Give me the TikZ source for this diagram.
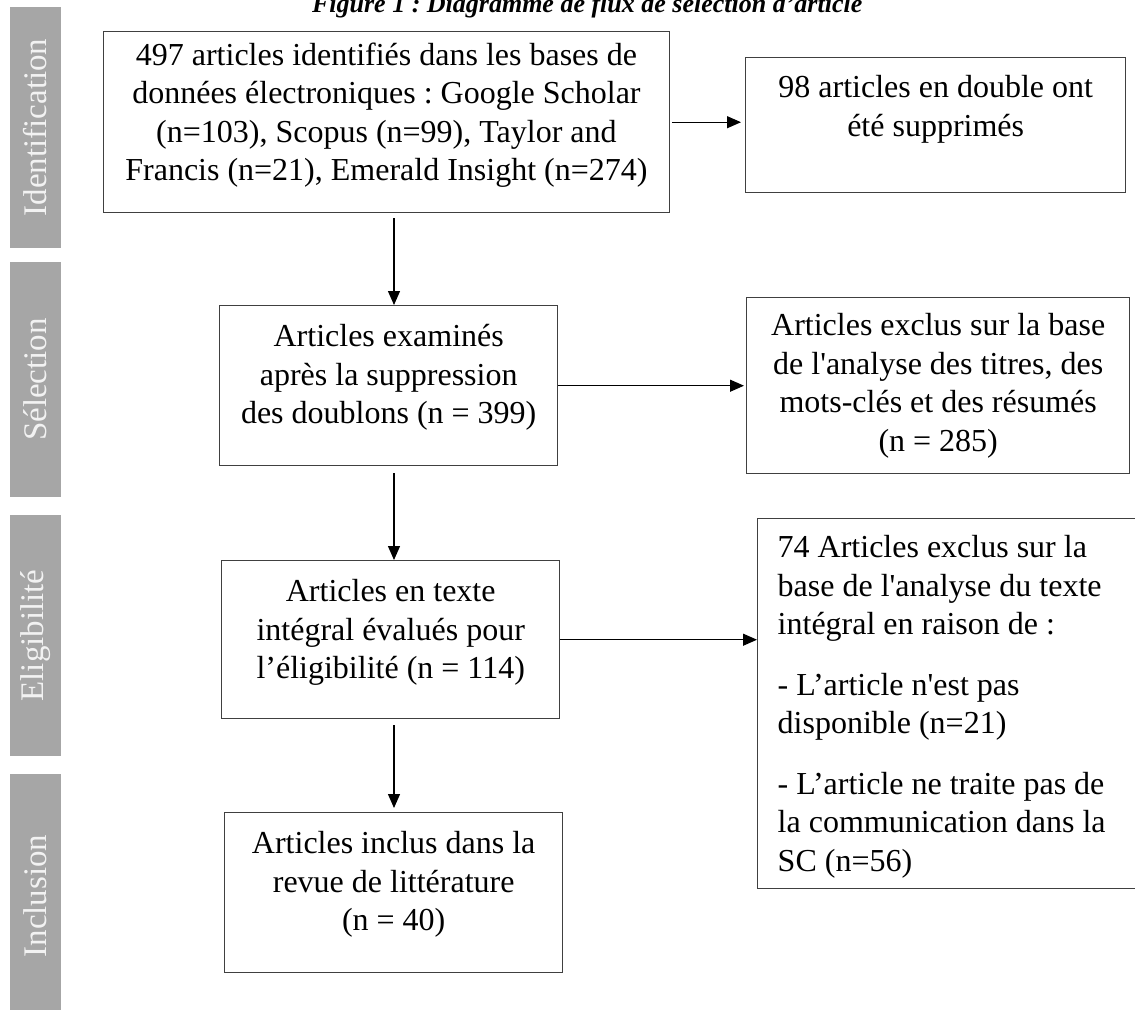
\documentclass[tikz,border=0pt]{standalone}
\usepackage{fontspec}
\setmainfont{Liberation Serif}
\usetikzlibrary{arrows.meta}
\definecolor{phasebg}{HTML}{A6A6A6}
\definecolor{phasetxt}{HTML}{F2F2F2}
\definecolor{boxline}{HTML}{404040}
\newcommand{\boxtext}[4]{\parbox[c][#2][t]{#1}{\centering\vspace*{#3}#4\par}}
\frenchspacing

\begin{document}
\begin{tikzpicture}[
    x=0.5pt, y=-0.5pt,
    box/.style={draw=boxline, line width=0.7pt, inner sep=0pt, anchor=north west, font=\fontsize{16pt}{19.25pt}\selectfont},
    phase/.style={fill=phasebg, text=phasetxt, rotate=90, minimum height=25.5pt, inner sep=0pt, font=\fontsize{16.5pt}{18pt}\selectfont},
    arr/.style={-{Triangle[length=7pt,width=6pt]}, line width=0.6pt}
]
    \useasboundingbox (0,0) rectangle (1135,1009);

    % Title (cut by the page edge)
    \node[anchor=base west, font=\fontsize{13pt}{15pt}\bfseries\itshape] (title) at (305,12) {Figure 1 : Diagramme de flux de sélection d'article};

    % Phase bars
    \node[phase, minimum width=120.5pt] (ph_id) at (35.5,127.5) {Identification};
    \node[phase, minimum width=117.5pt] (ph_sel) at (35.5,379.5) {Sélection};
    \node[phase, minimum width=120.5pt] (ph_elig) at (35.5,635.5) {Eligibilité};
    \node[phase, minimum width=122pt] (ph_incl) at (35.5,896) {Inclusion};

    % Main column
    \node[box] (id_all) at (103,31) {\boxtext{282.75pt}{90.5pt}{5.5pt}{497 articles identifiés dans les bases de\\données électroniques : Google Scholar\\(n=103), Scopus (n=99), Taylor and\\Francis (n=21), Emerald Insight (n=274)}};
    \node[box] (screen) at (219,305) {\boxtext{169pt}{80pt}{9.5pt}{Articles examinés\\après la suppression\\des doublons (n = 399)}};
    \node[box] (full) at (221,560) {\boxtext{169pt}{79pt}{9.5pt}{Articles en texte\\intégral évalués pour\\l’éligibilité (n = 114)}};
    \node[box] (incl) at (224,812) {\boxtext{169pt}{80pt}{9.5pt}{Articles inclus dans la\\revue de littérature\\(n = 40)}};

    % Exclusions
    \node[box] (dup) at (745,57) {\boxtext{190pt}{67.5pt}{9pt}{98 articles en double ont\\été supprimés}};
    \node[box] (excl_ta) at (746,297) {\boxtext{191.5pt}{88pt}{8pt}{Articles exclus sur la base\\de l\textquotesingle analyse des titres, des\\mots-clés et des résumés\\(n = 285)}};
    \node[box, inner xsep=10pt] (excl_ft) at (757,518) {\parbox[c][185pt][t]{186pt}{\raggedright\vspace*{8.5pt}74 Articles exclus sur la\\base de l\textquotesingle analyse du texte\\intégral en raison de :\\[10.9pt]- L’article n\textquotesingle est pas\\disponible (n=21)\\[10.9pt]- L’article ne traite pas de\\la communication dans la\\SC (n=56)\par}};

    % Connections
    \coordinate (spine) at (394,0);
    \draw[arr, shorten <=2.5pt] (id_all.south -| spine) -- (screen.north -| spine);
    \draw[arr, shorten <=3.5pt] (screen.south -| spine) -- (full.north -| spine);
    \draw[arr, shorten <=3pt, shorten >=2pt] (full.south -| spine) -- (incl.north -| spine);
    \draw[arr, shorten <=1pt, shorten >=2pt] (id_all.east) -- (id_all.east -| dup.west);
    \draw[arr, shorten >=1pt] (screen.east) -- (screen.east -| excl_ta.west);
    \draw[arr] (full.east) -- (full.east -| excl_ft.west);
\end{tikzpicture}
\end{document}
